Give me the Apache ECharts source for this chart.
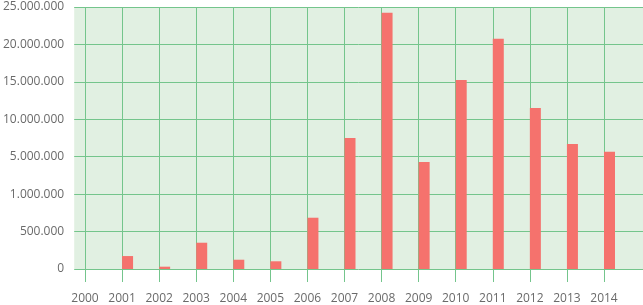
<!DOCTYPE html>
<html>
<head>
<meta charset="utf-8">
<script src="https://cdn.jsdelivr.net/npm/echarts@6/dist/echarts.min.js"></script>
<style>html,body{margin:0;padding:0;background:#fff}#c{width:643px;height:305px}</style>
</head>
<body>
<div id="c"></div>
<script>
const years = ['2000','2001','2002','2003','2004','2005','2006','2007','2008','2009','2010','2011','2012','2013','2014'];
const values = [0, 173000, 31000, 351000, 124000, 103000, 685000, 7490000, 24230000, 4430000, 15240000, 20760000, 11500000, 6690000, 5660000];
const tickValues = [0, 500000, 1000000, 5000000, 10000000, 15000000, 20000000, 25000000];
const tickLabels = ['0', '500.000', '1.000.000', '5.000.000', '10.000.000', '15.000.000', '20.000.000', '25.000.000'];

// piecewise-linear scale: each tick interval occupies equal height
function toPos(v) {
  for (let i = 0; i < tickValues.length - 1; i++) {
    if (v <= tickValues[i + 1]) {
      return i + (v - tickValues[i]) / (tickValues[i + 1] - tickValues[i]);
    }
  }
  return tickValues.length - 1;
}

const green = '#74c58c';
const font = '"Open Sans", sans-serif';
const chart = echarts.init(document.getElementById('c'), null, {renderer: 'canvas'});
chart.setOption({
  animation: false,
  grid: [
    {left: 72, right: 0, top: 7, bottom: 36, show: true, backgroundColor: '#e1f0e2', borderWidth: 0},
    {left: 85, right: 39, top: 7, bottom: 36}
  ],
  xAxis: [
    {gridIndex: 0, type: 'value', show: false, min: 0, max: 1},
    {gridIndex: 1, type: 'category', data: years, boundaryGap: false,
     axisLine: {show: false},
     axisTick: {show: true, length: 13, interval: 0, lineStyle: {color: green, width: 1}},
     splitLine: {show: true, interval: 0, lineStyle: {color: green, width: 1}},
     axisLabel: {interval: 0, margin: 24, color: '#6a6a6a', fontSize: 12, fontFamily: font}}
  ],
  yAxis: [
    {gridIndex: 0, type: 'value', min: 0, max: tickValues.length - 1, interval: 1,
     axisLine: {show: false}, axisTick: {show: false},
     splitLine: {show: true, lineStyle: {color: green, width: 1}},
     axisLabel: {margin: 10, color: '#6a6a6a', fontSize: 12, fontFamily: font,
       formatter: v => tickLabels[Math.round(v)]}},
    {gridIndex: 1, type: 'value', min: 0, max: tickValues.length - 1, interval: 1, show: false,
     splitLine: {show: false}}
  ],
  series: [
    {type: 'bar', xAxisIndex: 1, yAxisIndex: 1, data: years.map(() => 0), barWidth: 11, barGap: 0,
     itemStyle: {color: 'rgba(0,0,0,0)'}, silent: true},
    {type: 'bar', xAxisIndex: 1, yAxisIndex: 1, data: values.map(toPos), barWidth: 11, barGap: 0,
     itemStyle: {color: '#f5726d'}}
  ]
});
</script>
</body>
</html>
